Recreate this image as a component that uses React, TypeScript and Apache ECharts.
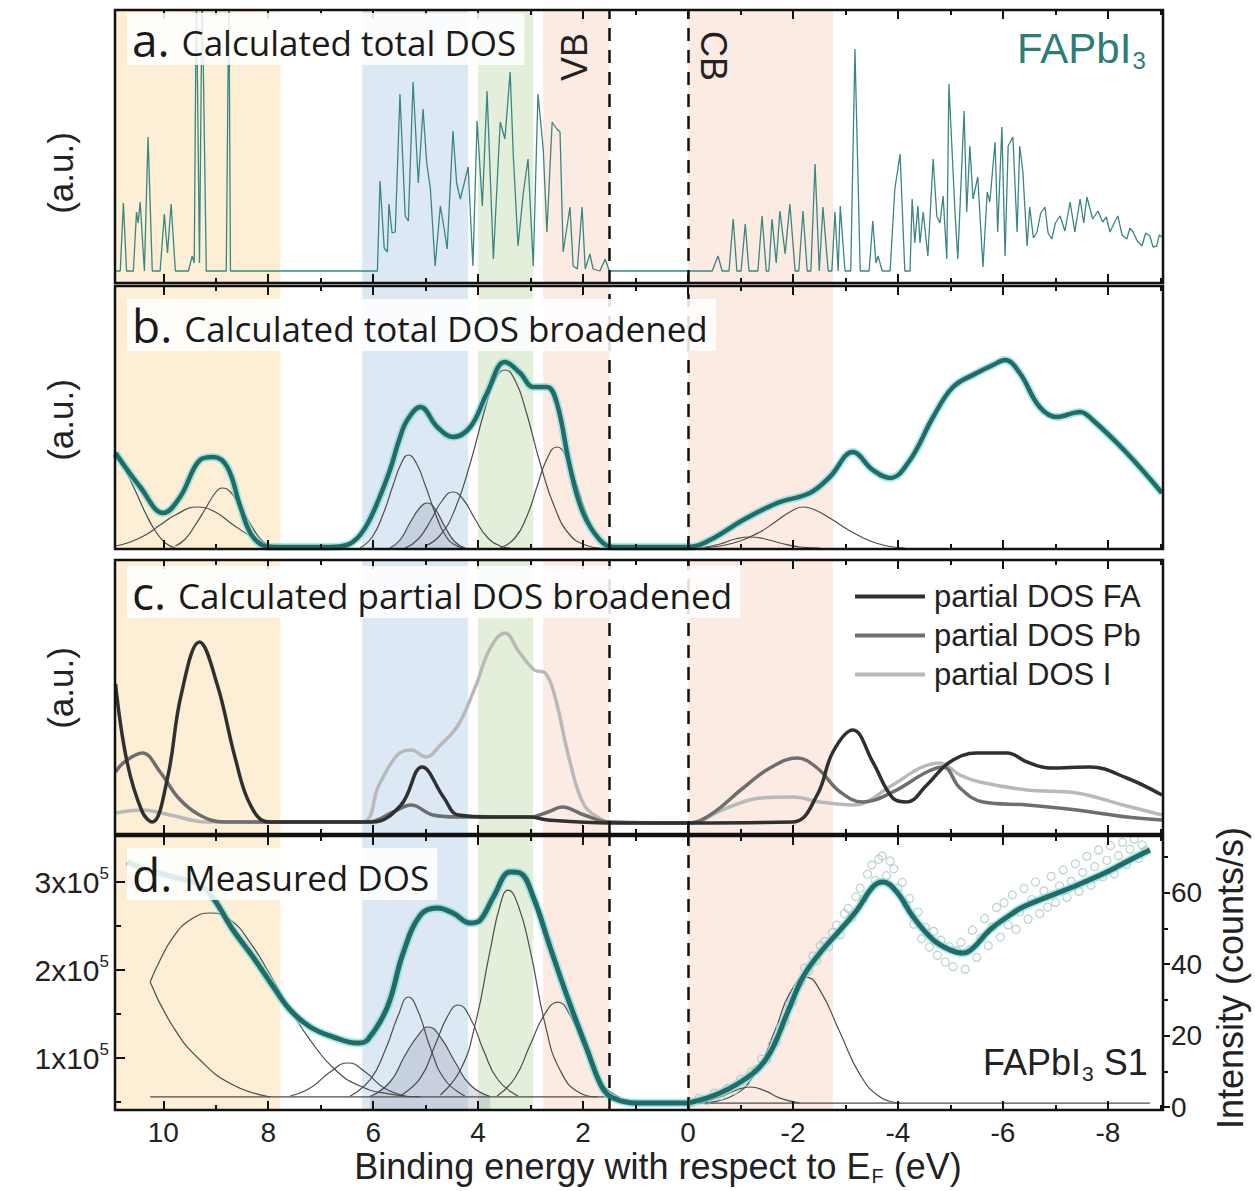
import { useEffect, useRef } from 'react';
import * as echarts from 'echarts';

// ---------------- axis constants ----------------
const X_MIN = -9.05;
const X_MAX = 10.92;
const X_MAJOR = [-8, -6, -4, -2, 0, 2, 4, 6, 8, 10];
const X_MINOR = [-9, -7, -5, -3, -1, 1, 3, 5, 7, 9];
const EDGES = [1.5, 0]; // VB edge, CB edge (eV)

const BANDS: [number, number, string][] = [
  [10.92, 7.77, '#fcefd5'],
  [6.21, 4.19, '#dce8f4'],
  [4.0, 2.95, '#e3eedb'],
  [2.76, 1.5, '#fbebe2'],
  [0, -2.76, '#fbebe2'],
];

const D_LEFT_TICKS = [100000, 200000, 300000];
const D_LEFT_MINOR = [50000, 150000, 250000];
const D_RIGHT_TICKS = [0, 20, 40, 60];
const D_RIGHT_MINOR = [10, 30, 50, 70];

// ---------------- panel a: calculated total DOS ----------------
const dosA: [number, number][] = [
  [10.91, 12], [10.82, 12], [10.76, 80], [10.7, 12], [10.57, 12], [10.51, 71], [10.48, 60], [10.44, 81], [10.36, 12],
  [10.29, 146], [10.21, 12], [10.06, 12], [9.98, 69], [9.92, 30], [9.85, 79], [9.77, 12], [9.52, 12], [9.45, 27],
  [9.41, 20], [9.37, 300], [9.31, 20], [9.26, 300], [9.18, 12], [8.8, 12], [8.75, 300], [8.72, 12], [5.96, 12],
  [5.92, 12], [5.87, 102], [5.79, 35], [5.73, 31], [5.7, 79], [5.64, 50], [5.58, 51], [5.49, 189], [5.39, 67],
  [5.33, 62], [5.24, 201], [5.14, 100], [5.05, 174], [4.98, 120], [4.91, 94], [4.82, 17], [4.72, 77], [4.65, 55],
  [4.59, 34], [4.48, 152], [4.41, 100], [4.34, 84], [4.19, 116], [4.1, 17], [4.02, 162], [3.92, 77], [3.83, 192],
  [3.71, 24], [3.58, 161], [3.49, 144], [3.39, 211], [3.33, 127], [3.24, 37], [3.14, 90], [3.05, 124], [2.95, 17],
  [2.86, 189], [2.76, 134], [2.69, 51], [2.59, 161], [2.5, 154], [2.44, 151], [2.38, 31], [2.25, 76], [2.19, 17],
  [2.11, 14], [2.02, 76], [1.96, 14], [1.87, 29], [1.81, 14], [1.68, 12], [1.58, 24], [1.5, 12], [-0.04, 12],
  [-0.46, 12], [-0.57, 27], [-0.65, 12], [-0.78, 12], [-0.86, 64], [-0.93, 12], [-1.01, 12], [-1.09, 59],
  [-1.16, 12], [-1.33, 12], [-1.41, 67], [-1.49, 12], [-1.54, 12], [-1.6, 64], [-1.68, 20], [-1.75, 72],
  [-1.85, 29], [-1.94, 79], [-2.04, 12], [-2.11, 12], [-2.19, 72], [-2.27, 12], [-2.34, 12], [-2.42, 119],
  [-2.5, 12], [-2.57, 76], [-2.67, 12], [-2.74, 12], [-2.8, 71], [-2.86, 12], [-2.9, 77], [-2.99, 12], [-3.1, 12],
  [-3.18, 234], [-3.28, 12], [-3.45, 12], [-3.52, 62], [-3.58, 20], [-3.62, 27], [-3.7, 12], [-3.85, 12],
  [-3.94, 94], [-4.04, 129], [-4.13, 12], [-4.23, 12], [-4.27, 84], [-4.32, 40], [-4.38, 77], [-4.42, 40],
  [-4.48, 71], [-4.57, 27], [-4.67, 124], [-4.74, 67], [-4.8, 60], [-4.86, 87], [-4.93, 24], [-4.97, 199],
  [-5.09, 67], [-5.14, 24], [-5.26, 172], [-5.31, 71], [-5.37, 137], [-5.43, 84], [-5.52, 106], [-5.62, 16],
  [-5.7, 91], [-5.75, 81], [-5.85, 141], [-5.9, 51], [-5.98, 156], [-6.04, 27], [-6.1, 137], [-6.19, 146],
  [-6.27, 51], [-6.32, 137], [-6.38, 111], [-6.46, 37], [-6.51, 76], [-6.58, 45], [-6.65, 51], [-6.72, 70],
  [-6.8, 76], [-6.86, 50], [-6.93, 44], [-7.0, 60], [-7.09, 67], [-7.18, 52], [-7.28, 81], [-7.37, 51], [-7.47, 84],
  [-7.54, 60], [-7.6, 86], [-7.71, 64], [-7.81, 72], [-7.9, 61], [-7.97, 66], [-8.04, 51], [-8.12, 60], [-8.19, 67],
  [-8.27, 48], [-8.36, 44], [-8.42, 55], [-8.48, 51], [-8.56, 42], [-8.65, 37], [-8.72, 50], [-8.8, 47],
  [-8.86, 36], [-8.93, 37], [-8.98, 48], [-9.03, 46],
];

// ---------------- panel b: broadened total DOS + components ----------------
const totalB: [number, number][] = [
  [10.91, 96], [10.44, 62], [10.0, 36], [9.68, 52], [9.3, 89], [9.05, 92], [8.78, 82], [8.53, 42], [8.29, 12],
  [7.96, 2], [6.82, 2], [6.5, 4], [6.3, 11], [6.1, 26], [5.9, 49], [5.68, 79], [5.5, 110], [5.35, 129], [5.1, 142],
  [4.78, 122], [4.48, 112], [4.15, 122], [3.83, 156], [3.49, 187], [3.2, 176], [2.95, 162], [2.69, 162],
  [2.5, 146], [2.25, 82], [2.0, 36], [1.68, 9], [1.43, 2], [0.0, 2], [-0.42, 9], [-1.05, 29], [-1.7, 46],
  [-2.32, 56], [-2.7, 72], [-3.14, 97], [-3.52, 79], [-3.85, 71], [-4.23, 89], [-4.67, 132], [-5.05, 162],
  [-5.5, 176], [-5.81, 184], [-6.04, 189], [-6.32, 176], [-6.7, 142], [-7.03, 132], [-7.47, 137], [-7.71, 129],
  [-8.36, 96], [-9.03, 56],
];
const compB1: [number, number][] = [[10.91, 92], [10.72, 78], [10.53, 58], [10.34, 36], [10.15, 18], [9.96, 6], [9.77, 1]];
const compB2: [number, number][] = [[10.91, 3], [10.63, 7], [10.34, 14], [10.06, 24], [9.77, 34], [9.35, 42], [9.01, 37], [8.69, 25], [8.34, 13], [8.06, 6], [7.77, 2.5], [7.49, 1]];
const compB3: [number, number][] = [[9.77, 3], [9.58, 10], [9.39, 24], [9.2, 40], [9.01, 56], [8.88, 61], [8.72, 57], [8.53, 42], [8.34, 25], [8.15, 10], [7.96, 2]];
const compB4: [number, number][] = [[6.25, 1], [6.02, 12], [5.81, 35], [5.62, 64], [5.47, 85], [5.33, 94], [5.18, 86], [5.01, 64], [4.82, 36], [4.63, 14], [4.44, 4], [4.25, 1]];
const compB5: [number, number][] = [[5.68, 1], [5.49, 9], [5.3, 26], [5.1, 42], [4.97, 46], [4.82, 40], [4.63, 22], [4.44, 7], [4.25, 1]];
const compB6: [number, number][] = [[5.39, 1], [5.14, 10], [4.91, 28], [4.69, 48], [4.48, 57], [4.29, 50], [4.06, 30], [3.83, 12], [3.58, 3], [3.39, 1]];
const compB7: [number, number][] = [[5.01, 3], [4.72, 14], [4.44, 40], [4.15, 86], [3.87, 140], [3.68, 169], [3.49, 179], [3.3, 169], [3.1, 140], [2.82, 86], [2.53, 40], [2.25, 14], [1.96, 4], [1.68, 1]];
const compB8: [number, number][] = [[3.58, 1], [3.3, 11], [3.07, 33], [2.88, 62], [2.69, 90], [2.5, 102], [2.3, 90], [2.11, 62], [1.92, 33], [1.73, 14], [1.49, 3], [1.3, 1]];
const compB9: [number, number][] = [[-0.23, 1], [-0.61, 5], [-0.9, 10], [-1.18, 12], [-1.47, 10], [-1.75, 6], [-2.13, 2], [-2.51, 1]];
const compB10: [number, number][] = [[-0.23, 1], [-0.61, 3], [-0.99, 8], [-1.37, 17], [-1.66, 27], [-1.94, 37], [-2.19, 42], [-2.42, 39], [-2.7, 31], [-3.09, 18], [-3.47, 8], [-3.85, 2.5], [-4.13, 1]];

// ---------------- panel c: partial DOS ----------------
const partialFA: [number, number][] = [
  [10.91, 150], [10.69, 72], [10.4, 22], [10.21, 12], [9.92, 56], [9.66, 139], [9.31, 192], [8.97, 149], [8.63, 76],
  [8.34, 29], [7.99, 12], [6.02, 12], [5.47, 29], [5.07, 67], [4.65, 36], [4.38, 19], [3.7, 17], [3.01, 17],
  [2.67, 14], [1.5, 11], [0.0, 11], [-2.0, 12], [-2.46, 39], [-2.76, 82], [-3.14, 104], [-3.52, 72], [-3.9, 36],
  [-4.17, 32], [-4.55, 49], [-4.99, 72], [-5.5, 81], [-6.08, 81], [-6.46, 72], [-6.9, 66], [-7.66, 67], [-8.36, 56],
  [-9.03, 39],
];
const partialPb: [number, number][] = [
  [10.91, 62], [10.74, 72], [10.4, 81], [10.06, 62], [9.71, 36], [9.31, 19], [8.84, 12], [6.1, 12], [5.62, 22],
  [5.28, 29], [4.86, 19], [4.38, 17], [3.01, 17], [2.67, 22], [2.4, 27], [1.98, 19], [1.5, 12], [0.0, 11],
  [-0.42, 19], [-1.05, 46], [-1.56, 66], [-2.08, 76], [-2.46, 66], [-2.9, 42], [-3.33, 32], [-3.9, 42], [-4.55, 62],
  [-4.86, 67], [-5.18, 46], [-5.62, 32], [-6.46, 29], [-7.41, 24], [-8.36, 17], [-9.03, 14],
];
const partialI: [number, number][] = [
  [10.91, 21], [10.4, 24], [9.87, 19], [9.18, 12], [6.23, 12], [5.89, 49], [5.54, 79], [5.28, 84], [4.99, 77],
  [4.72, 89], [4.38, 109], [4.04, 149], [3.77, 186], [3.49, 201], [3.22, 182], [2.93, 164], [2.72, 161], [2.53, 136],
  [2.25, 72], [1.98, 29], [1.64, 14], [1.5, 12], [0.0, 11], [-0.74, 26], [-1.37, 36], [-2.0, 37], [-2.51, 32],
  [-3.14, 29], [-3.9, 49], [-4.42, 66], [-4.8, 71], [-5.18, 59], [-5.56, 52], [-6.46, 44], [-7.41, 41], [-8.29, 29],
  [-9.03, 19],
];

// ---------------- panel d: measured DOS ----------------
// valence part (left axis, counts)
const measuredVB: [number, number][] = [
  [10.69, 322700], [10.44, 317000], [9.87, 306800], [9.3, 296600], [9.05, 281800], [8.67, 245500], [8.29, 214800],
  [7.9, 180700], [7.58, 154600], [7.2, 135300], [6.76, 123900], [6.3, 117000], [6.11, 120500], [5.73, 158000],
  [5.43, 219300], [5.1, 262500], [4.78, 270500], [4.48, 264800], [4.15, 253400], [3.96, 256800], [3.71, 283000],
  [3.39, 311400], [3.2, 310200], [2.95, 283000], [2.63, 226200], [2.3, 169400], [1.92, 109100], [1.64, 67100],
  [1.43, 54600], [0.97, 48900], [0.0, 48900],
];
const fitBaseVB: [number, number][] = [[10.25, 55800], [1.3, 55800]];
const compD1: [number, number][] = [[10.25, 186400], [10.06, 211400], [9.81, 237500], [9.49, 256800], [9.1, 264800], [8.72, 256800], [8.34, 230700], [7.96, 194400], [7.58, 154600], [7.2, 120500], [6.76, 88700], [6.25, 68200], [5.68, 59100], [5.1, 55800]];
const compD2: [number, number][] = [[10.25, 186400], [9.81, 135300], [9.3, 97800], [8.67, 69400], [7.96, 55800]];
const compD3: [number, number][] = [[7.58, 56900], [7.2, 65900], [6.82, 84100], [6.48, 94400], [6.15, 84100], [5.79, 65900], [5.39, 56900]];
const compD4: [number, number][] = [[6.44, 56900], [6.06, 75100], [5.77, 109200], [5.52, 148900], [5.33, 169400], [5.14, 152400], [4.91, 111400], [4.63, 75100], [4.25, 56900]];
const compD5: [number, number][] = [[6.06, 56300], [5.68, 72800], [5.39, 103500], [5.14, 126200], [4.95, 135300], [4.72, 123900], [4.44, 95500], [4.15, 69400], [3.77, 56300]];
const compD6: [number, number][] = [[5.49, 56900], [5.1, 77400], [4.82, 114800], [4.57, 148900], [4.38, 160300], [4.15, 145500], [3.9, 109200], [3.62, 75100], [3.24, 56900]];
const compD7: [number, number][] = [[4.72, 58100], [4.34, 86400], [4.06, 137500], [3.77, 222800], [3.58, 273900], [3.43, 290900], [3.24, 273900], [3.01, 222800], [2.72, 137500], [2.44, 86400], [2.06, 60300], [1.73, 55800]];
const compD8: [number, number][] = [[3.64, 56900], [3.3, 77400], [3.01, 114800], [2.72, 151100], [2.48, 163600], [2.25, 148900], [1.96, 109200], [1.68, 72800], [1.35, 56900]];
// conduction part (right axis, counts/s)
const measuredCB: [number, number][] = [
  [0.0, 1.1], [-0.61, 3.9], [-1.24, 9.5], [-1.56, 15.1], [-1.89, 26.3], [-2.19, 36.4], [-2.51, 43.1], [-2.9, 49.6],
  [-3.22, 55.2], [-3.52, 61.6], [-3.71, 63.0], [-3.98, 60.2], [-4.29, 53.2], [-4.67, 46.8], [-4.99, 44.0],
  [-5.24, 43.1], [-5.43, 44.5], [-5.75, 49.6], [-6.08, 53.2], [-6.38, 56.0], [-6.84, 58.8], [-7.33, 61.6],
  [-7.98, 65.8], [-8.42, 69.2], [-8.8, 72.0],
];
const fitBaseCB: [number, number][] = [[-0.2, 1.1], [-8.8, 1.1]];
const compD9: [number, number][] = [[-0.23, 1.1], [-0.61, 2.8], [-0.93, 4.8], [-1.18, 5.6], [-1.47, 4.5], [-1.75, 2.5], [-2.13, 1.1]];
const compD10: [number, number][] = [[-0.23, 1.1], [-0.8, 2.8], [-1.28, 9.5], [-1.66, 21.6], [-1.94, 31.9], [-2.25, 36.4], [-2.51, 32.8], [-2.9, 20.7], [-3.28, 9.0], [-3.66, 2.8], [-4.04, 1.1]];
const pointsCB: [number, number][] = [
  [-0.05, 1.2], [-0.2, 2.4], [-0.35, 1.8], [-0.5, 3.9], [-0.62, 3.1], [-0.75, 5.2], [-0.88, 4.6], [-1.0, 7.8],
  [-1.1, 6.9], [-1.2, 9.8], [-1.3, 10.5], [-1.4, 13.4], [-1.5, 13.2], [-1.6, 17.5], [-1.68, 18.2], [-1.76, 22.5],
  [-1.85, 24.1], [-1.93, 28.7], [-2.0, 29.5], [-2.08, 33.6], [-2.15, 35.2], [-2.22, 38.9], [-2.3, 38.1],
  [-2.38, 42.3], [-2.45, 41.0], [-2.52, 45.2], [-2.6, 46.4], [-2.68, 44.9], [-2.75, 48.8], [-2.83, 50.9],
  [-2.9, 48.2], [-2.98, 54.2], [-3.05, 55.6], [-3.12, 53.1], [-3.2, 58.9], [-3.28, 61.3], [-3.35, 58.4],
  [-3.42, 65.2], [-3.5, 67.8], [-3.57, 63.5], [-3.63, 69.4], [-3.7, 70.3], [-3.78, 64.8], [-3.85, 68.9],
  [-3.92, 66.7], [-4.0, 61.3], [-4.08, 62.9], [-4.15, 56.8], [-4.22, 58.4], [-4.3, 51.2], [-4.38, 54.6],
  [-4.45, 47.1], [-4.52, 50.3], [-4.6, 44.8], [-4.68, 49.2], [-4.75, 42.5], [-4.82, 46.7], [-4.9, 40.6],
  [-4.98, 44.9], [-5.05, 39.3], [-5.12, 43.8], [-5.2, 46.1], [-5.28, 38.6], [-5.35, 44.0], [-5.42, 49.5],
  [-5.5, 41.9], [-5.58, 47.3], [-5.65, 52.8], [-5.72, 45.2], [-5.8, 50.4], [-5.88, 55.9], [-5.95, 47.6],
  [-6.02, 57.2], [-6.1, 51.0], [-6.18, 59.4], [-6.25, 49.8], [-6.32, 54.7], [-6.4, 61.2], [-6.48, 52.6],
  [-6.55, 58.1], [-6.62, 63.0], [-6.7, 54.2], [-6.78, 60.5], [-6.85, 56.0], [-6.92, 64.6], [-7.0, 57.3],
  [-7.08, 61.9], [-7.15, 66.4], [-7.22, 58.7], [-7.3, 63.2], [-7.38, 68.1], [-7.45, 60.4], [-7.52, 65.7],
  [-7.6, 70.2], [-7.68, 62.1], [-7.75, 67.3], [-7.82, 72.0], [-7.9, 64.5], [-7.98, 69.1], [-8.05, 73.2],
  [-8.12, 65.3], [-8.2, 70.4], [-8.28, 74.1], [-8.35, 67.9], [-8.42, 72.2], [-8.5, 75.0], [-8.58, 69.6],
  [-8.65, 73.4], [-8.72, 71.9],
];

// ---------------- layout ----------------
const GRID_LEFT = 115;
const GRID_W = 1048;
const PANELS = [
  { top: 10, height: 273 },
  { top: 286, height: 263 },
  { top: 560, height: 274 },
  { top: 836, height: 274 },
];
const Y_MAX = [273, 263, 274];
const D_LEFT_RANGE = [41000, 352300];
const D_RIGHT_RANGE = [-0.84, 75.9];

const TEAL = '#1f6d68';
const TEAL_THIN = '#3a8682';
const GLOW = 'rgba(130,215,215,0.65)';
const COMP = '#4d4d4d';
const SANS = 'Liberation Sans';
const LABEL_FONT = 'Open Sans';

function buildOption(): any {
  const tickStyle = { color: '#111', width: 2 };
  const grid = PANELS.map((p) => ({
    left: GRID_LEFT, width: GRID_W, top: p.top, height: p.height,
    show: true, borderColor: '#111', borderWidth: 2.5, backgroundColor: 'transparent', z: 10,
  }));

  const xAxis: any[] = [];
  PANELS.forEach((_, i) => {
    const base = {
      type: 'value', gridIndex: i, min: X_MIN, max: X_MAX, inverse: true, z: 10,
      splitLine: { show: false }, axisLine: { show: false, onZero: false },
    };
    ['bottom', 'top'].forEach((pos) => {
      const withLabels = i === 3 && pos === 'bottom';
      xAxis.push({
        ...base, position: pos,
        axisTick: { show: true, inside: true, length: 9, lineStyle: tickStyle, customValues: X_MAJOR },
        axisLabel: withLabels
          ? { show: true, customValues: X_MAJOR, fontSize: 28, fontFamily: SANS, color: '#222', margin: 8 }
          : { show: false },
      });
      xAxis.push({
        ...base, position: pos,
        axisTick: { show: true, inside: true, length: 5, lineStyle: tickStyle, customValues: X_MINOR },
        axisLabel: { show: false },
      });
    });
  });

  const hiddenY = (i: number) => ({
    type: 'value', gridIndex: i, min: 0, max: Y_MAX[i], show: false,
    axisLine: { onZero: false }, splitLine: { show: false },
  });
  const dBase = { type: 'value', gridIndex: 3, z: 10, splitLine: { show: false }, axisLine: { show: false, onZero: false } };
  const yAxis: any[] = [
    hiddenY(0), hiddenY(1), hiddenY(2),
    {
      ...dBase, position: 'left', min: D_LEFT_RANGE[0], max: D_LEFT_RANGE[1],
      axisTick: { inside: true, length: 10, lineStyle: tickStyle, customValues: D_LEFT_TICKS },
      axisLabel: {
        customValues: D_LEFT_TICKS, margin: 6,
        formatter: (v: number) => `{n|${Math.round(v / 100000)}x10}{s|5}`,
        rich: {
          n: { fontSize: 30, fontFamily: SANS, color: '#222' },
          s: { fontSize: 17, fontFamily: SANS, color: '#222', padding: [0, 0, 18, 0] },
        },
      },
    },
    {
      ...dBase, position: 'left', min: D_LEFT_RANGE[0], max: D_LEFT_RANGE[1],
      axisTick: { inside: true, length: 6, lineStyle: tickStyle, customValues: D_LEFT_MINOR },
      axisLabel: { show: false },
    },
    {
      ...dBase, position: 'right', min: D_RIGHT_RANGE[0], max: D_RIGHT_RANGE[1],
      axisTick: { inside: false, length: 7, lineStyle: tickStyle, customValues: D_RIGHT_TICKS },
      axisLabel: { customValues: D_RIGHT_TICKS, margin: 8, fontSize: 28, fontFamily: SANS, color: '#222' },
    },
    {
      ...dBase, position: 'right', min: D_RIGHT_RANGE[0], max: D_RIGHT_RANGE[1],
      axisTick: { inside: false, length: 5, lineStyle: tickStyle, customValues: D_RIGHT_MINOR },
      axisLabel: { show: false },
    },
  ];

  const line = (name: string, data: [number, number][], panel: number, yIdx: number, color: string, width: number, extra: any = {}) => ({
    type: 'line', name, data, xAxisIndex: panel * 4, yAxisIndex: yIdx,
    symbol: 'none', silent: true, clip: true,
    lineStyle: { color, width }, itemStyle: { color },
    ...extra,
  });

  const series: any[] = [];
  [0, 1, 2, 3].forEach((p) => {
    const yIdx = p < 3 ? p : 3;
    series.push({
      type: 'line', name: `bands-${p}`, data: [], xAxisIndex: p * 4, yAxisIndex: yIdx, z: 1, silent: true,
      markArea: { silent: true, data: BANDS.map(([a, b, c]) => [{ xAxis: a, itemStyle: { color: c } }, { xAxis: b }]) },
    });
    series.push({
      type: 'line', name: `edges-${p}`, data: [], xAxisIndex: p * 4, yAxisIndex: yIdx, z: 6, silent: true,
      markLine: {
        silent: true, symbol: ['none', 'none'], label: { show: false },
        lineStyle: { color: '#111', width: 2.5, type: [13, 9] },
        data: EDGES.map((e) => ({ xAxis: e })),
      },
    });
  });

  // panel a
  series.push(line('total DOS', dosA, 0, 0, TEAL_THIN, 1.3, { z: 3 }));

  // panel b
  const compsB = [compB1, compB2, compB3, compB4, compB6, compB7, compB8, compB9, compB10];
  compsB.forEach((c, k) => series.push(line(`b-comp-${k}`, c, 1, 1, COMP, 1.2, { smooth: 0.5, z: 2 })));
  series.push(line('b-comp-fill', compB5, 1, 1, COMP, 1.2, { smooth: 0.5, z: 2, areaStyle: { color: 'rgba(150,155,175,0.45)' } }));
  series.push(line('b-glow', totalB, 1, 1, GLOW, 8, { smooth: 0.4, z: 3 }));
  series.push(line('broadened total DOS', totalB, 1, 1, TEAL, 4.5, { smooth: 0.4, z: 4 }));

  // panel c
  series.push(line('partial DOS I', partialI, 2, 2, '#b9b9b9', 3.5, { smooth: 0.4, z: 3 }));
  series.push(line('partial DOS Pb', partialPb, 2, 2, '#6e6e6e', 3.5, { smooth: 0.4, z: 3 }));
  series.push(line('partial DOS FA', partialFA, 2, 2, '#303030', 3.5, { smooth: 0.4, z: 4 }));

  // panel d
  series.push(line('d-base-vb', fitBaseVB, 3, 3, COMP, 1.2, { z: 2 }));
  [compD1, compD2, compD3, compD4, compD6, compD7, compD8].forEach((c, k) =>
    series.push(line(`d-comp-${k}`, c, 3, 3, COMP, 1.2, { smooth: 0.5, z: 2 })));
  series.push(line('d-comp-fill', compD5, 3, 3, COMP, 1.2, { smooth: 0.5, z: 2, areaStyle: { color: 'rgba(150,155,175,0.45)', origin: 'start' } }));
  series.push(line('d-base-cb', fitBaseCB, 3, 5, COMP, 1.2, { z: 2 }));
  series.push(line('d-comp-cb1', compD9, 3, 5, COMP, 1.2, { smooth: 0.5, z: 2 }));
  series.push(line('d-comp-cb2', compD10, 3, 5, COMP, 1.2, { smooth: 0.5, z: 2 }));
  series.push({
    type: 'scatter', name: 'measured points', data: pointsCB, xAxisIndex: 12, yAxisIndex: 5, z: 3, silent: true,
    symbol: 'circle', symbolSize: 8,
    itemStyle: { color: 'rgba(255,255,255,0)', borderColor: '#adc6c6', borderWidth: 1.2 },
  });
  series.push(line('d-glow-vb', measuredVB, 3, 3, GLOW, 8.5, { smooth: 0.4, z: 4 }));
  series.push(line('d-glow-cb', measuredCB, 3, 5, GLOW, 8.5, { smooth: 0.4, z: 4 }));
  series.push(line('measured DOS VB', measuredVB, 3, 3, TEAL, 5, { smooth: 0.4, z: 5 }));
  series.push(line('measured DOS CB', measuredCB, 3, 5, TEAL, 5, { smooth: 0.4, z: 5 }));

  const labelBox = (x: number, y: number, letter: string, text: string) => ({
    type: 'text', x, y, z: 100, silent: true,
    style: {
      text: `{l|${letter}}{t|${text}}`,
      align: 'left', verticalAlign: 'top',
      rich: {
        l: { fontSize: 46, fontFamily: LABEL_FONT, fill: '#1a1a1a', lineHeight: 52 },
        t: { fontSize: 35, fontFamily: LABEL_FONT, fill: '#1a1a1a', lineHeight: 52, padding: [6, 0, 0, 0] },
      },
      backgroundColor: 'rgba(255,255,255,0.86)',
      padding: [0, 8, 0, 5],
    },
  });
  const rotText = (x: number, y: number, text: string, size: number, rot: number) => ({
    type: 'text', x, y, rotation: rot, z: 100, silent: true,
    style: { text, fontSize: size, fontFamily: SANS, fill: '#222', align: 'center', verticalAlign: 'middle' },
  });

  const graphic: any[] = [
    labelBox(127, 13, 'a. ', 'Calculated total DOS'),
    labelBox(127, 299, 'b. ', 'Calculated total DOS broadened'),
    labelBox(127, 566, 'c. ', 'Calculated partial DOS broadened'),
    labelBox(127, 848, 'd. ', 'Measured DOS'),
    rotText(574, 57, 'VB', 36, Math.PI / 2),
    rotText(713, 56, 'CB', 36, -Math.PI / 2),
    {
      type: 'text', x: 1017, y: 48, z: 100, silent: true,
      style: {
        text: '{m|FAPbI}{s|3}', align: 'left', verticalAlign: 'middle',
        rich: {
          m: { fontSize: 42, fontFamily: SANS, fill: '#2b7d78' },
          s: { fontSize: 24, fontFamily: SANS, fill: '#2b7d78', padding: [24, 0, 0, 1] },
        },
      },
    },
    {
      type: 'text', x: 983, y: 1062, z: 100, silent: true,
      style: {
        text: '{m|FAPbI}{s|3}{m| S1}', align: 'left', verticalAlign: 'middle',
        rich: {
          m: { fontSize: 36, fontFamily: SANS, fill: '#222' },
          s: { fontSize: 21, fontFamily: SANS, fill: '#222', padding: [22, 0, 0, 1] },
        },
      },
    },
    rotText(60, 173, '(a.u.)', 35, Math.PI / 2),
    rotText(60, 420, '(a.u.)', 35, Math.PI / 2),
    rotText(60, 688, '(a.u.)', 35, Math.PI / 2),
    rotText(1230, 978, 'Intensity (counts/s)', 36, Math.PI / 2),
    {
      type: 'text', x: 658, y: 1166, z: 100, silent: true,
      style: {
        text: '{m|Binding energy with respect to E}{s|F}{m| (eV)}', align: 'center', verticalAlign: 'middle',
        rich: {
          m: { fontSize: 36, fontFamily: SANS, fill: '#222' },
          s: { fontSize: 20, fontFamily: SANS, fill: '#222', padding: [20, 0, 0, 1] },
        },
      },
    },
  ];

  return {
    animation: false,
    backgroundColor: '#fff',
    grid, xAxis, yAxis, series, graphic,
    legend: {
      data: ['partial DOS FA', 'partial DOS Pb', 'partial DOS I'],
      orient: 'vertical', left: 850, top: 576, icon: 'rect',
      itemWidth: 70, itemHeight: 4, itemGap: 8, selectedMode: false,
      textStyle: { fontSize: 31, fontFamily: SANS, color: '#222', padding: [0, 0, 0, 4] },
    },
  };
}

export default function App() {
  const ref = useRef<HTMLDivElement>(null);
  useEffect(() => {
    if (!ref.current) return;
    const chart = echarts.init(ref.current, null, { renderer: 'svg' });
    chart.setOption(buildOption());
    return () => chart.dispose();
  }, []);
  return (
    <div
      ref={ref}
      style={{ position: 'absolute', left: 0, top: 0, width: 1255, height: 1191, background: '#fff' }}
    />
  );
}
